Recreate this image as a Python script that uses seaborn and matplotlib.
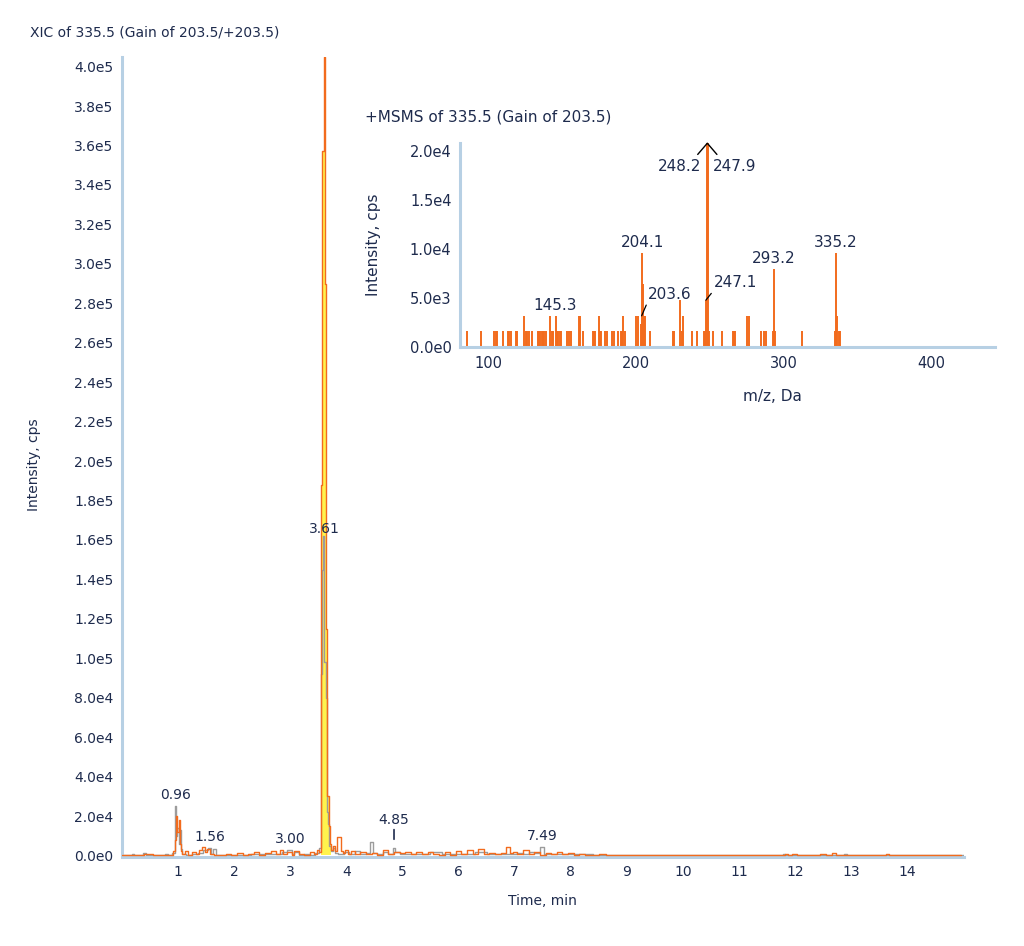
import numpy as np
import matplotlib
matplotlib.use("Agg")
import matplotlib.pyplot as plt
from matplotlib.ticker import FuncFormatter, MultipleLocator
import seaborn as sns

# XIC traces (time in min, intensity in cps)
t_orange = [0.00, 0.20, 0.30, 0.50, 0.60, 0.90, 0.94, 0.96, 0.98, 1.00, 1.02, 1.04, 1.06, 1.10, 1.15,
            1.20, 1.30, 1.35, 1.40, 1.45, 1.50, 1.55, 1.60, 1.70, 1.80, 1.90, 2.00, 2.10, 2.20, 2.30,
            2.40, 2.50, 2.60, 2.70, 2.80, 2.85, 2.90, 3.00, 3.05, 3.10, 3.20, 3.30, 3.40, 3.45, 3.50,
            3.53, 3.55, 3.58, 3.61, 3.63, 3.65, 3.67, 3.70, 3.72, 3.75, 3.78, 3.82, 3.86, 3.90, 3.92,
            3.95, 4.00, 4.05, 4.10, 4.20, 4.30, 4.40, 4.50, 4.60, 4.70, 4.80, 4.90, 5.00, 5.10, 5.20,
            5.30, 5.40, 5.50, 5.60, 5.70, 5.80, 5.90, 6.00, 6.10, 6.20, 6.30, 6.40, 6.50, 6.60, 6.70,
            6.80, 6.90, 6.95, 7.00, 7.10, 7.20, 7.30, 7.40, 7.50, 7.60, 7.70, 7.80, 7.90, 8.00, 8.10,
            8.20, 8.30, 8.40, 8.60, 8.65, 9.20, 9.25, 9.30, 9.60, 9.70, 9.75, 11.80, 11.85, 11.90,
            12.00, 12.05, 12.40, 12.50, 12.60, 12.70, 12.75, 13.20, 13.30, 13.35, 13.60, 13.65, 13.70,
            14.00, 14.10, 14.15, 14.60, 14.65, 14.70, 14.95]
i_orange = [0, 500, 0, 700, 0, 300, 2500, 8000, 20000, 12000, 18000, 6000, 2500, 800, 2500,
            500, 1800, 800, 3000, 4500, 2000, 3500, 800, 200, 0, 1000, 300, 1200, 400, 1000,
            1600, 500, 1400, 2200, 700, 3000, 900, 1800, 500, 2500, 900, 400, 2000, 600, 3000,
            2000, 188000, 357000, 405000, 290000, 115000, 30000, 15000, 6000, 3000, 5000, 2500, 9500, 9500, 2500,
            1200, 3000, 1000, 2200, 600, 1800, 800, 1400, 500, 2800, 1000, 2000, 1400, 1800, 800,
            1800, 600, 2000, 800, 400, 1800, 300, 2200, 800, 2600, 600, 3200, 800, 1500, 600,
            1300, 4500, 1200, 1800, 600, 2800, 800, 1800, 500, 1500, 900, 1700, 600, 1200, 400,
            800, 200, 0, 600, 0, 0, 500, 0, 0, 500, 0, 0, 800, 400,
            900, 0, 0, 600, 300, 1200, 0, 0, 500, 0, 0, 600, 0,
            0, 500, 0, 0, 500, 0, 0]

t_gray = [0.00, 0.15, 0.20, 0.25, 0.35, 0.40, 0.45, 0.75, 0.80, 0.85, 0.93, 0.95, 0.96, 0.98, 1.00,
          1.02, 1.04, 1.06, 1.10, 1.20, 1.30, 1.40, 1.50, 1.56, 1.60, 1.65, 1.70, 1.80, 2.80, 2.90,
          3.00, 3.05, 3.10, 3.20, 3.30, 3.40, 3.50, 3.53, 3.55, 3.58, 3.60, 3.62, 3.64, 3.66, 3.68,
          3.71, 3.74, 3.78, 3.82, 3.90, 4.00, 4.10, 4.20, 4.30, 4.40, 4.46, 4.50, 4.60, 4.70, 4.80,
          4.85, 4.90, 5.00, 5.20, 5.40, 5.60, 5.80, 6.00, 6.20, 6.40, 6.60, 6.80, 7.00, 7.10, 7.20,
          7.30, 7.40, 7.49, 7.55, 7.70, 7.90, 8.10, 8.30, 8.50, 8.60, 8.95, 9.00, 9.05, 10.45, 10.50,
          10.55, 11.75, 11.80, 11.85, 12.85, 12.90, 12.95, 15.00]
i_gray = [0, 0, 1000, 0, 0, 1200, 0, 0, 600, 0, 1500, 20000, 25000, 10000, 14000,
          6000, 13000, 3500, 1000, 400, 1000, 1400, 2800, 4000, 600, 3200, 300, 0, 1000, 1800,
          3000, 1000, 1600, 500, 900, 500, 1500, 4000, 92000, 145000, 162000, 98000, 80000, 22000, 16000,
          5000, 2500, 4000, 1500, 1000, 2000, 900, 2200, 700, 1400, 7000, 1400, 900, 2000, 900,
          4000, 1800, 900, 700, 1000, 2000, 900, 700, 1000, 2000, 900, 600, 1000, 1500, 600,
          2000, 1500, 4200, 1000, 700, 1000, 600, 800, 300, 0, 0, 400, 0, 0, 500,
          0, 0, 1000, 0, 0, 800, 0, 0]

# integrated peak window (yellow area)
peak_start, peak_end = 3.55, 3.72

# peak labels
peak_labels = ["0.96", "1.56", "3.00", "3.61", "4.85", "7.49"]
peak_times = [0.96, 1.56, 3.00, 3.61, 4.85, 7.49]
peak_heights = [25000, 4000, 3000, 162000, 4000, 4200]

# MS/MS spectrum sticks
mz_low = [85.3, 95.0, 104.0, 104.7, 105.6, 109.9, 113.3, 114.1, 115.0, 118.4, 119.3, 125.0, 126.0,
          127.6, 129.3, 133.3, 134.1, 135.0, 135.9, 136.7, 137.6, 139.0, 142.7, 143.6, 146.0, 147.0,
          148.1, 149.0, 153.3, 154.7, 156.1, 163.9, 170.4, 171.3, 172.1, 175.3, 176.1, 179.0, 180.4,
          183.3, 184.7, 187.6, 189.3, 190.4, 192.1, 209.0, 224.7, 225.6, 230.7, 237.6, 241.3, 245.6,
          246.4, 249.2, 251.6, 257.9, 265.3, 266.1, 267.0, 284.7, 286.1, 287.6, 292.4, 294.1, 311.9,
          334.7, 337.3, 338.0]
mz_mid = [124.1, 141.9, 145.3, 161.3, 162.1, 174.4, 191.3, 199.6, 201.3, 203.6, 205.2, 206.0,
          231.9, 275.0, 276.1, 335.7]
mz_major = [203.2, 204.1, 204.6, 229.9, 247.1, 247.9, 248.2, 293.2, 335.2]
int_major = [2400, 9600, 6400, 4800, 4800, 120000, 120000, 8000, 9600]
int_low = 1600
int_mid = 3200

ms_ylim = 20800

text_c = "#1e2b4d"
spine_c = "#b7d0e4"
orange = "#f26b1d"
gray = "#9c9c9c"
yellow = "#fff34d"


def sci(v, pos=None):
    if v == 0:
        return "0.0e0"
    e = int(np.floor(np.log10(abs(v)) + 1e-9))
    return f"{v / 10**e:.1f}e{e}"


def style_axes(ax, size):
    sns.despine(ax=ax)
    for s in ["left", "bottom"]:
        ax.spines[s].set_color(spine_c)
        ax.spines[s].set_linewidth(2.2)
    ax.tick_params(which="major", colors=spine_c, labelcolor=text_c, labelsize=size,
                   length=4, width=1.2, direction="out", pad=2)
    ax.tick_params(which="minor", colors=spine_c, length=2.5, width=1.2, direction="out")
    ax.yaxis.set_major_formatter(FuncFormatter(sci))
    ax.set_facecolor("none")


sns.set_style("white")
plt.rcParams["font.family"] = ["DejaVu Sans"]

fig = plt.figure(figsize=(10.24, 9.46), dpi=100)
ax = fig.add_axes([0.119, 0.094, 0.822, 0.846])

# yellow integrated area under the orange trace
t_o = np.array(t_orange)
i_o = np.array(i_orange)
win = (t_o >= peak_start) & (t_o <= peak_end)
ax.fill_between(t_o[win], 0, i_o[win], color=yellow, lw=0, step="mid", zorder=1)

sns.lineplot(x=t_gray, y=i_gray, ax=ax, color=gray, linewidth=1.0, estimator=None, sort=False,
             drawstyle="steps-mid", zorder=2)
sns.lineplot(x=t_orange, y=i_orange, ax=ax, color=orange, linewidth=1.0, estimator=None, sort=False,
             drawstyle="steps-mid", zorder=3)

ax.set_xlim(0, 15)
ax.set_ylim(-800, 405000)
ax.set_xticks(range(1, 15))
ax.xaxis.set_minor_locator(MultipleLocator(0.5))
ax.set_yticks(np.arange(0, 400001, 20000))
ax.yaxis.set_minor_locator(MultipleLocator(10000))
style_axes(ax, 10)

for lab, t, h in zip(peak_labels, peak_times, peak_heights):
    if lab == "4.85":
        ax.annotate("", xy=(t, h), xytext=(0, 18), textcoords="offset pixels",
                    arrowprops=dict(arrowstyle="-", color=text_c, lw=1.2, shrinkA=0, shrinkB=6))
        ax.annotate(lab, xy=(t, h), xytext=(0, 21), textcoords="offset pixels",
                    ha="center", va="bottom", fontsize=10, color=text_c)
    elif lab == "3.61":
        ax.annotate(lab, xy=(t, h), xytext=(0, 7), textcoords="offset pixels",
                    ha="center", va="center", fontsize=10, color=text_c, zorder=5)
    else:
        ax.annotate(lab, xy=(t, h), xytext=(0, 4), textcoords="offset pixels",
                    ha="center", va="bottom", fontsize=10, color=text_c)

ax.set_xlabel("Time, min", fontsize=10, color=text_c)
ax.xaxis.set_label_coords(0.5, -0.046)
ax.set_ylabel("Intensity, cps", fontsize=10, color=text_c)
ax.yaxis.set_label_coords(-0.096, 0.49)
fig.text(0.029, 0.966, "XIC of 335.5 (Gain of 203.5/+203.5)", fontsize=10, color=text_c,
         ha="left", va="center")

# inset spectrum
ins = fig.add_axes([0.449, 0.633, 0.523, 0.2156])
ins.vlines(mz_low, 0, int_low, color=orange, lw=1.4)
ins.vlines(mz_mid, 0, int_mid, color=orange, lw=1.4)
ins.vlines(mz_major, 0, int_major, color=orange, lw=1.4)
ins.set_xlim(80.5, 443)
ins.set_ylim(0, ms_ylim)
ins.set_xticks([100, 200, 300, 400])
ins.xaxis.set_minor_locator(MultipleLocator(50))
ins.set_yticks([0, 5000, 10000, 15000, 20000])
ins.yaxis.set_minor_locator(MultipleLocator(2500))
style_axes(ins, 10.5)

# off-scale marker for the base peak
top_mz = (mz_major[5] + mz_major[6]) / 2
ins.plot([top_mz - 6.5, top_mz, top_mz + 6.5], [ms_ylim * 0.945, ms_ylim, ms_ylim * 0.945],
         color="black", lw=1.0, clip_on=False)
ins.annotate("248.2", xy=(top_mz, ms_ylim * 0.885), xytext=(-6, 0), textcoords="offset pixels",
             ha="right", va="center", fontsize=11, color=text_c)
ins.annotate("247.9", xy=(top_mz, ms_ylim * 0.885), xytext=(6, 0), textcoords="offset pixels",
             ha="left", va="center", fontsize=11, color=text_c)

for lab, mz, h in [("204.1", mz_major[1], int_major[1]), ("293.2", mz_major[7], int_major[7]),
                   ("335.2", mz_major[8], int_major[8]), ("145.3", mz_mid[2], int_mid)]:
    ins.annotate(lab, xy=(mz, h), xytext=(0, 3), textcoords="offset pixels",
                 ha="center", va="bottom", fontsize=11, color=text_c)

ins.annotate("203.6", xy=(mz_mid[9], int_mid), xytext=(6, 14), textcoords="offset pixels",
             ha="left", va="bottom", fontsize=11, color=text_c,
             arrowprops=dict(arrowstyle="-", color="black", lw=0.9, shrinkA=0, shrinkB=0,
                             relpos=(0, 0)))
ins.annotate("247.1", xy=(mz_major[4], int_major[4]), xytext=(8, 10), textcoords="offset pixels",
             ha="left", va="bottom", fontsize=11, color=text_c,
             arrowprops=dict(arrowstyle="-", color="black", lw=0.9, shrinkA=0, shrinkB=0,
                             relpos=(0, 0)))

ins.set_xlabel("m/z, Da", fontsize=11, color=text_c)
ins.xaxis.set_label_coords(0.583, -0.206)
ins.set_ylabel("Intensity, cps", fontsize=11, color=text_c)
ins.yaxis.set_label_coords(-0.148, 0.5)
fig.text(0.356, 0.876, "+MSMS of 335.5 (Gain of 203.5)", fontsize=11, color=text_c,
         ha="left", va="center")

fig.savefig("out.png", dpi=100)
